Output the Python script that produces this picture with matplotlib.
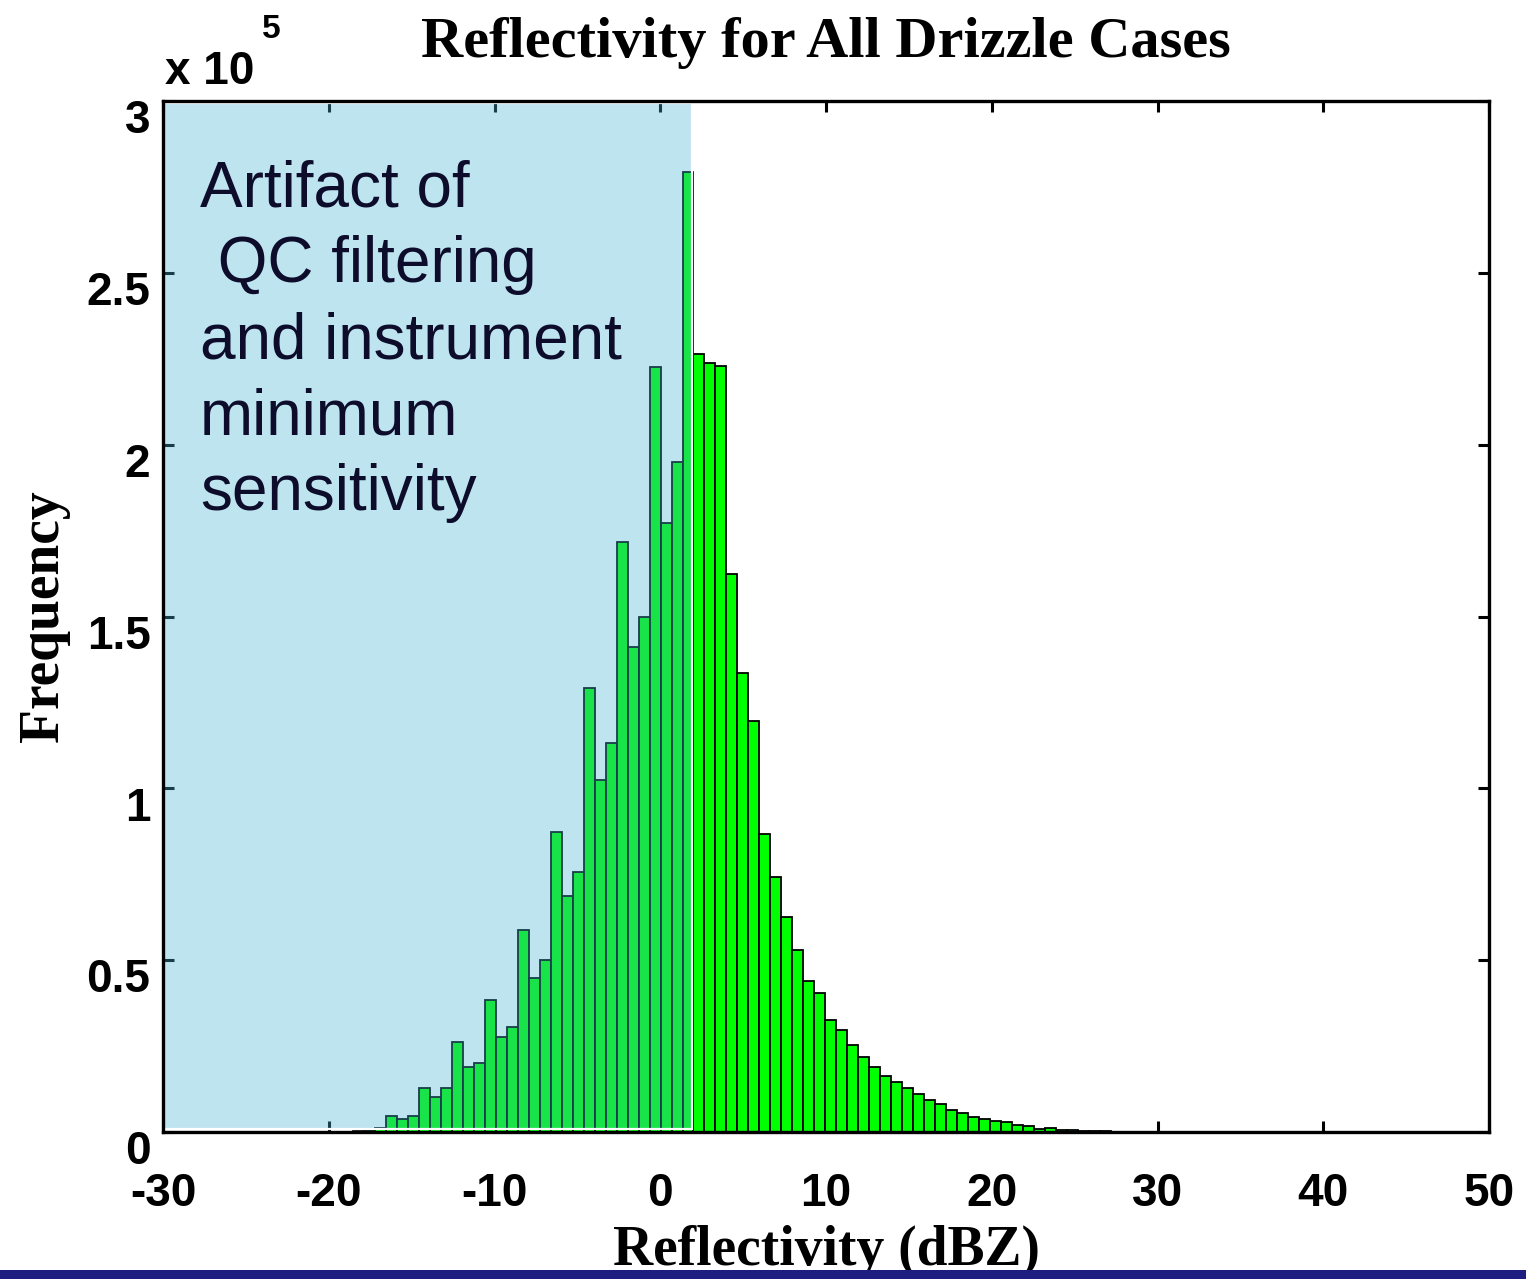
import matplotlib
matplotlib.use("Agg")
import matplotlib.pyplot as plt
import matplotlib.transforms as mtransforms
from matplotlib.patches import Rectangle

# histogram bins (dBZ) and counts, in units of 1e5
bin_left = -18.53
bin_width = 0.6624
freq_e5 = [
    0.003, 0.005,
    0.012, 0.047, 0.037, 0.047, 0.127, 0.101, 0.127, 0.261, 0.190, 0.200,
    0.384, 0.277, 0.305, 0.588, 0.447, 0.500, 0.874, 0.687, 0.757, 1.291,
    1.024, 1.131, 1.717, 1.410, 1.500, 2.225, 1.771, 1.950, 2.794, 2.264,
    2.237, 2.229, 1.624, 1.337, 1.196, 0.866, 0.743, 0.626, 0.530, 0.439,
    0.404, 0.325, 0.297, 0.253, 0.217, 0.190, 0.164, 0.145, 0.129, 0.110,
    0.093, 0.081, 0.064, 0.054, 0.045, 0.037, 0.031, 0.028, 0.021, 0.019,
    0.010, 0.013, 0.005, 0.005, 0.004, 0.004, 0.003,
]
bin_edges = [bin_left + i * bin_width for i in range(len(freq_e5))]

x_ticks = [-30, -20, -10, 0, 10, 20, 30, 40, 50]
y_ticks = [0, 0.5, 1, 1.5, 2, 2.5, 3]
y_tick_labels = ["0", "0.5", "1", "1.5", "2", "2.5", "3"]

# shaded region: artifact zone
shade_x = (-30, 1.92)
note = "Artifact of\n QC filtering\nand instrument\nminimum\nsensitivity"

sans = ["Liberation Sans", "DejaVu Sans"]
serif = ["Liberation Serif", "DejaVu Serif"]

fig = plt.figure(figsize=(15.26, 12.79), dpi=100)
ax = fig.add_axes([0.1068, 0.1149, 0.8690, 0.8061])

ax.bar(bin_edges, freq_e5, width=bin_width, align="edge",
       color="#00ff00", edgecolor="black", linewidth=1.3, zorder=1)

ax.add_patch(Rectangle((shade_x[0], 0.008), shade_x[1] - shade_x[0], 2.985,
                       facecolor=(69 / 255, 178 / 255, 212 / 255), alpha=0.35,
                       edgecolor="none", zorder=2))
ax.add_patch(Rectangle((shade_x[0], 0.008), shade_x[1] - shade_x[0], 2.985,
                       facecolor="none", edgecolor="white", linewidth=1.6,
                       zorder=2.1))

ax.text(-27.77, 2.83, note, fontsize=46, family=sans, color="#0d0d2b",
        va="top", ha="left", linespacing=1.34, zorder=3)

ax.set_xlim(-30, 50)
ax.set_ylim(0, 3)
ax.set_xticks(x_ticks)
ax.set_xticklabels([str(t) for t in x_ticks], fontsize=33, family=sans,
                   fontweight="bold")
ax.set_yticks(y_ticks)
ax.set_yticklabels(y_tick_labels, fontsize=33, family=sans,
                   fontweight="bold")
ax.tick_params(direction="in", length=8, width=2.2, top=True, right=True)
ax.tick_params(axis="x", pad=29)
ax.tick_params(axis="y", pad=9)
ax.set_axisbelow(True)
for s in ax.spines.values():
    s.set_linewidth(2.4)

# MATLAB-style: y labels sit a bit below their ticks
off = mtransforms.ScaledTranslation(0, -11 / 72, fig.dpi_scale_trans)
for lab in ax.get_yticklabels():
    lab.set_transform(lab.get_transform() + off)

ax.set_title("Reflectivity for All Drizzle Cases", fontsize=42,
             family=serif, fontweight="bold", pad=32)
ax.set_xlabel("Reflectivity (dBZ)", fontsize=40, family=serif,
              fontweight="bold", labelpad=6)
ax.set_ylabel("Frequency", fontsize=40, family=serif, fontweight="bold",
              labelpad=12)

fig.text(165 / 1526, 1 - 72 / 1279, "x 10", fontsize=33, family=sans,
         fontweight="bold", ha="left", va="center")
fig.text(262 / 1526, 1 - 30 / 1279, "5", fontsize=24, family=sans,
         fontweight="bold", ha="left", va="center")

# navy strip along the bottom edge
fig.patches.append(Rectangle((0, 0), 1, 9 / 1279, transform=fig.transFigure,
                             facecolor="#1e1e80", edgecolor="none", zorder=10))

fig.savefig("out.png", dpi=100)
